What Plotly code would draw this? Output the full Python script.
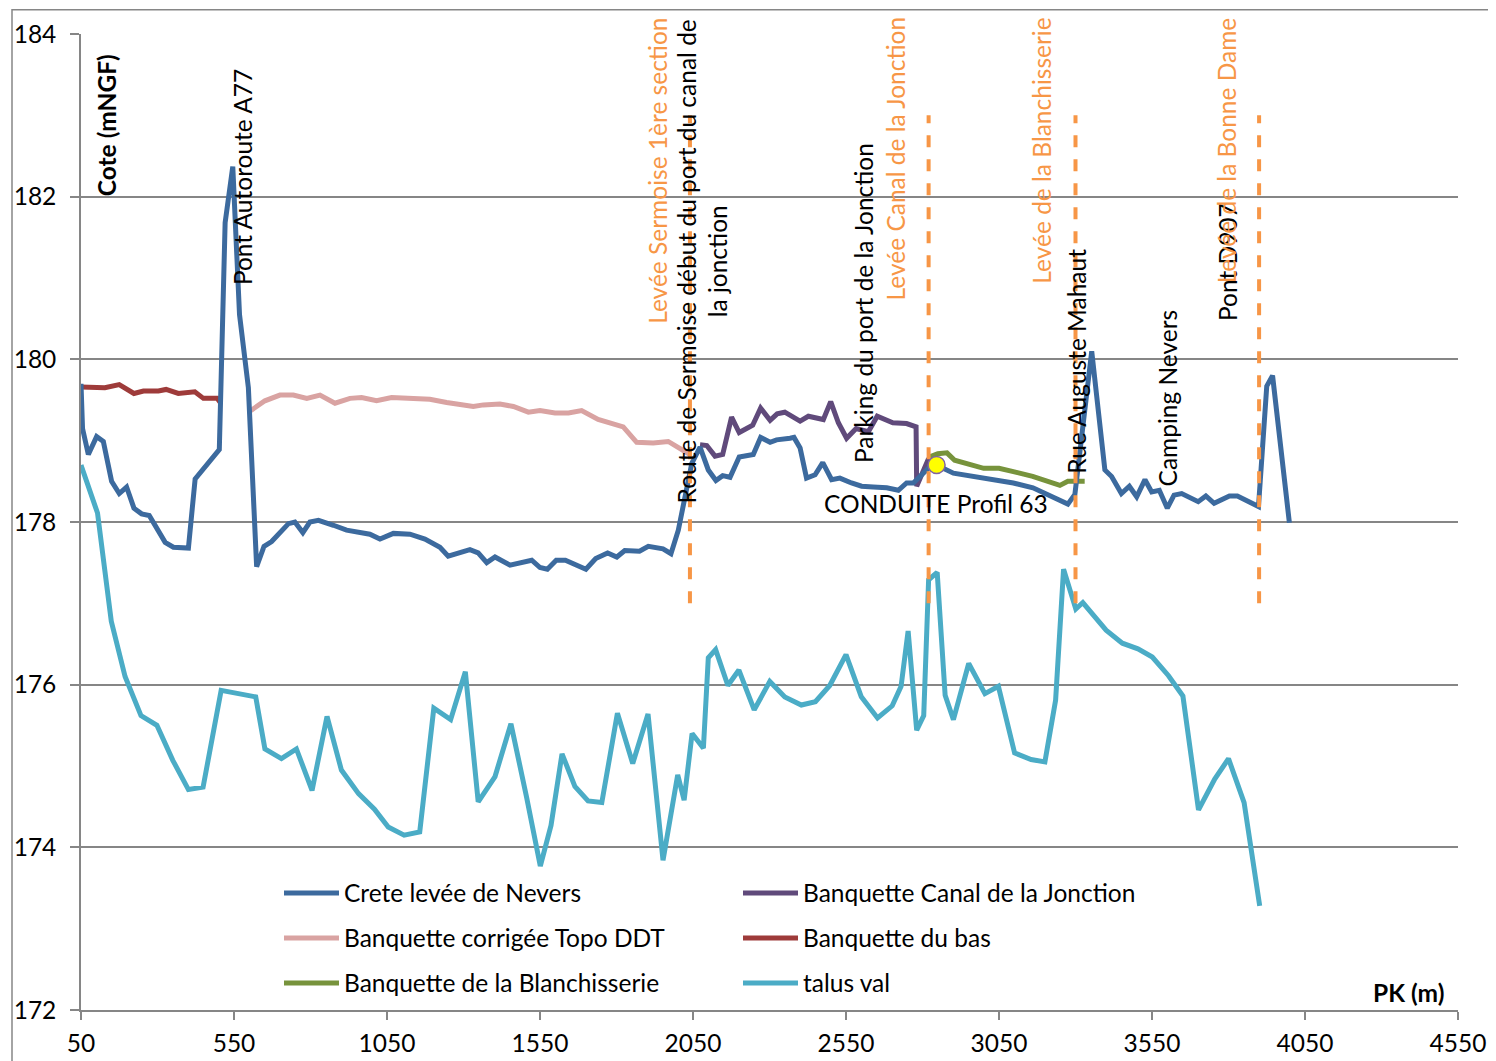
import plotly.graph_objects as go

# ---------------- data ----------------
crete_x = [50, 55, 74, 101, 123, 150, 175, 199, 223, 248,
           273, 325, 352, 401, 423, 502, 521, 546, 568, 597,
           624, 648, 673, 728, 749, 775, 798, 826, 875, 918,
           994, 1027, 1071, 1125, 1174, 1223, 1250, 1321, 1348, 1376,
           1403, 1452, 1523, 1550, 1574, 1603, 1633, 1700, 1732, 1771,
           1801, 1827, 1875, 1904, 1952, 1978, 2002, 2029, 2046, 2073,
           2100, 2125, 2147, 2171, 2201, 2247, 2271, 2302, 2323, 2367,
           2380, 2400, 2421, 2449, 2474, 2503, 2530, 2568, 2601, 2639,
           2683, 2721, 2748, 2770, 2835, 2901, 2999, 3097, 3161, 3249,
           3275, 3298, 3353, 3396, 3418, 3450, 3476, 3500, 3527, 3549,
           3574, 3600, 3622, 3647, 3701, 3726, 3753, 3803, 3829, 3898,
           3925, 3944, 3999]
crete_y = [179.70, 179.15, 178.83, 179.05, 178.99, 178.50, 178.35, 178.43, 178.17, 178.10,
           178.08, 177.75, 177.69, 177.68, 178.53, 178.89, 181.68, 182.37, 180.55, 179.65,
           177.45, 177.70, 177.76, 177.98, 178.00, 177.87, 178.00, 178.02, 177.96, 177.90,
           177.85, 177.79, 177.86, 177.85, 177.79, 177.69, 177.58, 177.66, 177.62, 177.50,
           177.57, 177.47, 177.53, 177.44, 177.42, 177.53, 177.53, 177.42, 177.55, 177.62,
           177.57, 177.65, 177.64, 177.70, 177.67, 177.61, 177.90, 178.44, 178.72, 178.92,
           178.64, 178.51, 178.57, 178.55, 178.80, 178.83, 179.04, 178.98, 179.01, 179.03,
           179.04, 178.91, 178.54, 178.58, 178.73, 178.52, 178.54, 178.48, 178.44, 178.43,
           178.42, 178.39, 178.48, 178.48, 178.72, 178.60, 178.54, 178.48, 178.42, 178.27,
           178.22, 178.34, 180.10, 178.64, 178.56, 178.35, 178.44, 178.31, 178.52, 178.37,
           178.39, 178.17, 178.33, 178.35, 178.25, 178.32, 178.23, 178.32, 178.32, 178.19,
           179.67, 179.80, 177.99]

canal_x = [2073, 2095, 2122, 2147, 2176, 2201, 2245, 2271, 2302, 2325,
           2350, 2375, 2400, 2427, 2476, 2500, 2525, 2552, 2583, 2623,
           2652, 2703, 2748, 2779, 2781, 2820]
canal_y = [178.95, 178.94, 178.81, 178.83, 179.29, 179.10, 179.19, 179.40, 179.25, 179.33,
           179.35, 179.30, 179.24, 179.30, 179.26, 179.48, 179.22, 179.03, 179.15, 179.11,
           179.30, 179.22, 179.21, 179.17, 178.44, 178.78]

corrigee_x = [597, 651, 700, 744, 788, 831, 880, 929, 967, 1016,
              1065, 1114, 1190, 1245, 1283, 1332, 1365, 1419, 1463, 1512,
              1550, 1599, 1643, 1686, 1740, 1784, 1822, 1866, 1920, 1969,
              2007, 2040]
corrigee_y = [179.35, 179.49, 179.56, 179.56, 179.52, 179.56, 179.46, 179.52, 179.53, 179.49,
              179.53, 179.52, 179.51, 179.47, 179.45, 179.42, 179.44, 179.45, 179.42, 179.35,
              179.37, 179.34, 179.34, 179.37, 179.26, 179.22, 179.17, 178.98, 178.97, 178.99,
              178.91, 178.83]

bas_x = [50, 128, 175, 223, 254, 303, 328, 368, 422, 450, 495, 505]
bas_y = [179.66, 179.65, 179.69, 179.58, 179.61, 179.61, 179.63, 179.58, 179.60, 179.52, 179.52, 179.47]

blanch_x = [2824, 2850, 2880, 2905, 3000, 3050, 3097, 3160, 3249, 3275, 3330]
blanch_y = [178.80, 178.84, 178.85, 178.76, 178.66, 178.66, 178.62, 178.56, 178.45, 178.50, 178.50]

talus_x = [50, 104, 149, 194, 246, 298, 350, 401, 449, 508,
           621, 651, 705, 754, 805, 854, 901, 957, 1009, 1054,
           1106, 1157, 1203, 1258, 1306, 1348, 1403, 1455, 1506, 1551,
           1586, 1622, 1664, 1707, 1752, 1803, 1853, 1903, 1952, 2000,
           2021, 2047, 2084, 2100, 2124, 2164, 2200, 2250, 2301, 2350,
           2404, 2450, 2497, 2550, 2600, 2653, 2701, 2730, 2753, 2781,
           2804, 2820, 2848, 2874, 2901, 2951, 3004, 3048, 3101, 3155,
           3200, 3235, 3261, 3301, 3324, 3400, 3453, 3504, 3551, 3604,
           3651, 3702, 3755, 3800, 3851, 3902]
talus_y = [178.70, 178.11, 176.78, 176.10, 175.62, 175.50, 175.07, 174.71, 174.74, 175.93,
           175.85, 175.21, 175.09, 175.21, 174.70, 175.61, 174.95, 174.66, 174.47, 174.25,
           174.15, 174.19, 175.71, 175.57, 176.16, 174.56, 174.87, 175.52, 174.62, 173.77,
           174.27, 175.15, 174.75, 174.57, 174.55, 175.65, 175.03, 175.64, 173.84, 174.89,
           174.58, 175.40, 175.22, 176.33, 176.43, 175.99, 176.18, 175.69, 176.04, 175.85,
           175.75, 175.79, 175.99, 176.37, 175.85, 175.59, 175.74, 175.98, 176.66, 175.44,
           175.62, 177.29, 177.38, 175.87, 175.57, 176.26, 175.89, 175.98, 175.16, 175.08,
           175.05, 175.81, 177.42, 176.93, 177.01, 176.67, 176.51, 176.44, 176.34, 176.11,
           175.86, 174.46, 174.84, 175.09, 174.55, 173.28]

limits_x = [2040, 2820, 3300, 3900]
limits_y = [177.0, 183.0]

conduite_x = [2846]
conduite_y = [178.70]

x_ticks = [50, 550, 1050, 1550, 2050, 2550, 3050, 3550, 4050, 4550]
y_ticks = [172, 174, 176, 178, 180, 182, 184]

FONT = "Lato"
FS = 24.5
GRID = "#868686"
ORANGE = "#F79646"

fig = go.Figure()

series = [
    ("Crete levée de Nevers", crete_x, crete_y, "#3C6A9E", "legend", 1),
    ("Banquette Canal de la Jonction", canal_x, canal_y, "#604A7B", "legend", 2),
    ("Banquette corrigée Topo DDT", corrigee_x, corrigee_y, "#D9A3A2", "legend2", 1),
    ("Banquette du bas", bas_x, bas_y, "#9E3B3A", "legend2", 2),
    ("Banquette de la Blanchisserie", blanch_x, blanch_y, "#77933C", "legend3", 1),
    ("talus val", talus_x, talus_y, "#4BACC6", "legend3", 2),
]
draw_order = [2, 3, 5, 4, 1, 0]
for i in draw_order:
    name, xs, ys, col, leg, rank = series[i]
    fig.add_trace(go.Scatter(x=xs, y=ys, mode="lines", name=name,
                             line=dict(color=col, width=5),
                             legend=leg, legendrank=rank))

for i, xv in enumerate(limits_x):
    fig.add_trace(go.Scatter(x=[xv, xv], y=limits_y, mode="lines",
                             line=dict(color=ORANGE, width=4, dash="dash"),
                             showlegend=False, hoverinfo="skip"))

fig.add_trace(go.Scatter(x=conduite_x, y=conduite_y, mode="markers",
                         marker=dict(size=17, color="#FFFF00",
                                     line=dict(color="#8064A2", width=1.5)),
                         showlegend=False))

# ---------------- annotations ----------------
labels = [
    ("Pont Autoroute A77", 576, 182.24, "black"),
    ("Levée Sermoise 1ère section", 1936, 182.32, ORANGE),
    ("Route de Sermoise début du port du canal de<br>la jonction", 2081, 181.21, "black"),
    ("Parking du port de la Jonction", 2605, 180.69, "black"),
    ("Levée Canal de la Jonction", 2710, 182.47, ORANGE),
    ("Levée de la Blanchisserie", 3189, 182.56, ORANGE),
    ("Rue Auguste Mahaut", 3304, 179.98, "black"),
    ("Camping Nevers", 3602, 179.53, "black"),
    ("Pont D907", 3796, 181.20, "black"),
    ("Levée de la Bonne Dame", 3792, 182.57, ORANGE),
]
for txt, xv, yv, col in labels:
    fig.add_annotation(x=xv, y=yv, text=txt, textangle=-90, showarrow=False,
                       xanchor="center", yanchor="middle",
                       font=dict(family=FONT, size=FS, color=col))

fig.add_annotation(x=132, y=182.88, text="<b>Cote (mNGF)</b>", textangle=-90,
                   showarrow=False, xanchor="center", yanchor="middle",
                   font=dict(family=FONT, size=FS, color="black"))
fig.add_annotation(x=2844, y=178.23, text="CONDUITE Profil 63", showarrow=False,
                   xanchor="center", yanchor="middle",
                   font=dict(family=FONT, size=FS, color="black"))
fig.add_annotation(x=4387, y=172.21, text="<b>PK (m)</b>", showarrow=False,
                   xanchor="center", yanchor="middle",
                   font=dict(family=FONT, size=FS, color="black"))

# chart frame
fig.add_shape(type="rect", xref="paper", yref="paper",
              x0=(12 - 81) / 1377, y0=-0.3, x1=1.3, y1=(1010 - 10) / 975.7,
              line=dict(color=GRID, width=1.5), layer="below")

leg_common = dict(orientation="h", xanchor="left", yanchor="middle",
                  entrywidth=389, entrywidthmode="pixels",
                  font=dict(family=FONT, size=FS, color="black"),
                  bgcolor="rgba(0,0,0,0)", itemwidth=55)
lx = (279 - 81) / 1377

def ly(py):
    return (1010 - py) / 975.7

# the page adds an 8 px body margin: figure is 8 px smaller, top/left margins 8 px smaller
fig.update_layout(
    width=1488, height=1053,
    margin=dict(l=73, r=38, t=26, b=51, pad=0, autoexpand=False),
    paper_bgcolor="white", plot_bgcolor="white",
    font=dict(family=FONT, size=FS, color="black"),
    legend=dict(x=lx, y=ly(893), **leg_common),
    legend2=dict(x=lx, y=ly(938), **leg_common),
    legend3=dict(x=lx, y=ly(983), **leg_common),
    xaxis=dict(range=[50, 4550], tickmode="array", tickvals=x_ticks,
               ticktext=[str(v) for v in x_ticks],
               showgrid=False, zeroline=False, showline=True,
               linecolor=GRID, linewidth=1.5, ticks="outside", ticklen=8,
               tickcolor=GRID, tickwidth=1.5,
               tickfont=dict(family=FONT, size=FS, color="black"),
               ticklabelstandoff=3),
    yaxis=dict(range=[172, 184], tickmode="array", tickvals=y_ticks,
               showgrid=True, gridcolor=GRID, gridwidth=1.5, zeroline=False,
               showline=True, linecolor=GRID, linewidth=1.5,
               ticks="outside", ticklen=9, tickcolor=GRID, tickwidth=1.5,
               tickfont=dict(family=FONT, size=FS, color="black"),
               ticklabelstandoff=9),
    showlegend=True,
)

fig.write_html("out.html")
